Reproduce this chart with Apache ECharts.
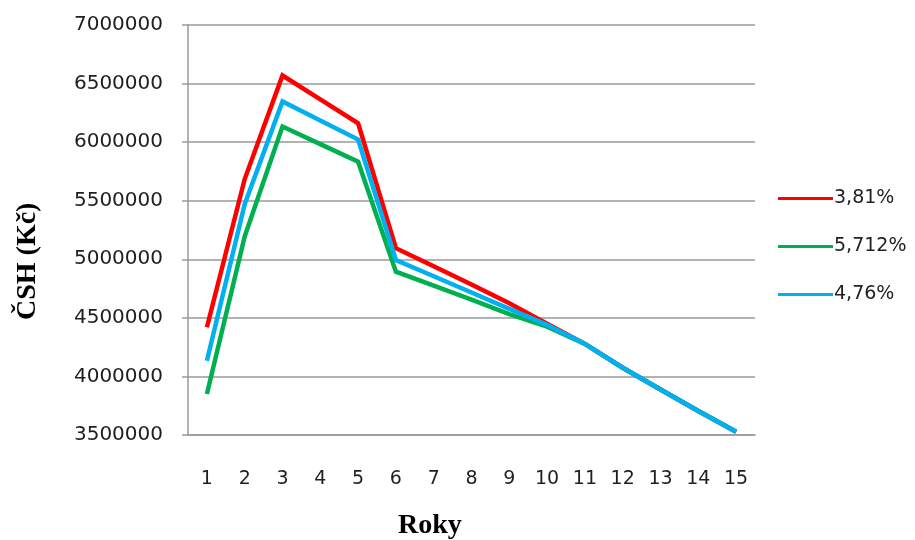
<!DOCTYPE html>
<html>
<head>
<meta charset="utf-8">
<script src="https://cdn.jsdelivr.net/npm/echarts@6/dist/echarts.min.js"></script>
<style>
  html, body { margin: 0; padding: 0; background: #fff; }
  #chart { width: 915px; height: 540px; }
</style>
</head>
<body>
<div id="chart"></div>
<script>
// Years on the x axis
const years = ['1','2','3','4','5','6','7','8','9','10','11','12','13','14','15'];

// Series names (discount rates)
const seriesNames = ['3,81%', '5,712%', '4,76%'];

// ČSH values in Kč per year
const rate381 = [4420000, 5685000, 6569000, 6365000, 6161000, 5095000, 4941000, 4785000, 4624000, 4450000, 4278000, 4074000, 3889000, 3705000, 3527000];
const rate5712 = [3850000, 5195000, 6133000, 5983000, 5833000, 4894000, 4776000, 4656000, 4532000, 4425000, 4278000, 4074000, 3889000, 3705000, 3527000];
const rate476 = [4134000, 5470000, 6347000, 6185000, 6022000, 4994000, 4855000, 4716000, 4577000, 4440000, 4278000, 4074000, 3889000, 3705000, 3527000];

const seriesColors = ['#FF0000', '#00B050', '#00B0F0'];
const textColor = '#1f1f1f';
const gridColor = '#9a9a9a';

const chart = echarts.init(document.getElementById('chart'), null, { renderer: 'canvas' });

const makeSeries = (name, data, color) => ({
  name: name,
  type: 'line',
  data: data,
  symbol: 'none',
  smooth: false,
  lineStyle: { color: color, width: 4.5, join: 'miter' },
  itemStyle: { color: color },
  emphasis: { disabled: true }
});

chart.setOption({
  animation: false,
  backgroundColor: '#ffffff',
  textStyle: { fontFamily: 'DejaVu Sans', color: textColor },
  grid: { left: 188, right: 160, top: 25, bottom: 105, containLabel: false },
  legend: {
    orient: 'vertical',
    left: 773,
    top: 184,
    icon: 'rect',
    itemWidth: 55,
    itemHeight: 3,
    itemGap: 29,
    textStyle: { fontFamily: 'DejaVu Sans', fontSize: 19, color: textColor, padding: [0, 0, 0, -4] },
    data: seriesNames
  },
  xAxis: {
    type: 'category',
    data: years,
    boundaryGap: true,
    axisLine: { lineStyle: { color: gridColor, width: 1.5 } },
    axisTick: { show: false },
    axisLabel: { fontSize: 19, color: textColor, margin: 35, fontFamily: 'DejaVu Sans' },
    splitLine: { show: false }
  },
  yAxis: {
    type: 'value',
    min: 3500000,
    max: 7000000,
    interval: 500000,
    axisLine: { show: true, lineStyle: { color: gridColor, width: 1.5 } },
    axisTick: { show: true, inside: false, length: 6, lineStyle: { color: gridColor, width: 1.5 } },
    axisLabel: {
      fontSize: 20,
      color: textColor,
      margin: 25,
      fontFamily: 'DejaVu Sans',
      formatter: (v) => String(v)
    },
    splitLine: { show: true, lineStyle: { color: gridColor, width: 1.5 } }
  },
  graphic: [
    {
      type: 'text',
      left: 398,
      top: 512,
      style: { text: 'Roky', font: 'bold 28px "Liberation Serif"', fill: '#000' }
    },
    {
      type: 'text',
      x: 14,
      y: 320,
      rotation: Math.PI / 2,
      style: { text: 'ČSH (Kč)', font: 'bold 28px "Liberation Serif"', fill: '#000' }
    }
  ],
  series: [
    makeSeries(seriesNames[0], rate381, seriesColors[0]),
    makeSeries(seriesNames[1], rate5712, seriesColors[1]),
    makeSeries(seriesNames[2], rate476, seriesColors[2])
  ]
});
</script>
</body>
</html>
